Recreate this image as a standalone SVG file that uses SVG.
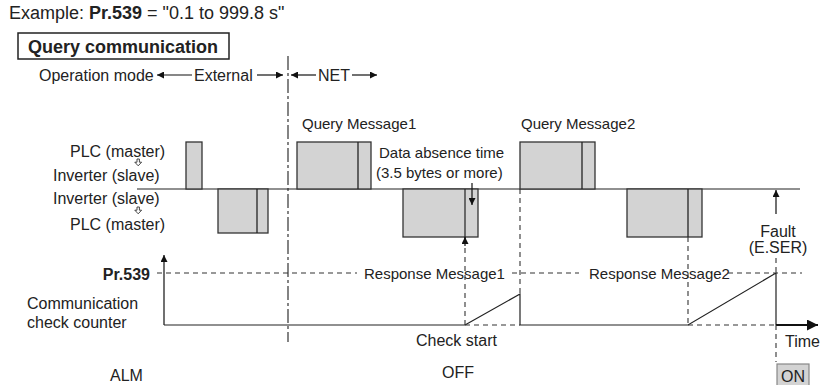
<svg xmlns="http://www.w3.org/2000/svg" width="823" height="385" viewBox="0 0 823 385">
  <defs>
    <marker id="tri" viewBox="0 0 10 10" refX="10" refY="5" markerWidth="7" markerHeight="7" markerUnits="userSpaceOnUse" orient="auto">
      <path d="M0,0 L10,5 L0,10 z" fill="#111"/>
    </marker>
    <marker id="triBig" viewBox="0 0 10 10" refX="10" refY="5" markerWidth="11" markerHeight="11" markerUnits="userSpaceOnUse" orient="auto">
      <path d="M0,0 L10,5 L0,10 z" fill="#111"/>
    </marker>
  </defs>
  <style>
    text { font-family: "Liberation Sans", Arial, sans-serif; fill: #222; }
    .lbl { font-size: 16px; }
    .sm { font-size: 15px; }
    .hd { font-size: 18px; }
    .b { font-weight: bold; }
    .frame { fill: #d3d3d3; stroke: #333; stroke-width: 1.3; }
    .div { stroke: #222; stroke-width: 1.3; fill: none; }
    .line { stroke: #222; stroke-width: 1.2; fill: none; }
    .dash { stroke: #333; stroke-width: 1.1; stroke-dasharray: 5 4; fill: none; }
    .chain { stroke: #333; stroke-width: 1.2; stroke-dasharray: 14 3 3 3; fill: none; }
    .arr { stroke: #111; stroke-width: 1.2; fill: none; marker-end: url(#tri); }
    .hollow { stroke: #333; stroke-width: 0.9; fill: #fff; }
  </style>

  <!-- Title block -->
  <g id="title">
    <text class="hd" x="9" y="19">Example: <tspan class="b">Pr.539</tspan> = "0.1 to 999.8 s"</text>
    <rect x="18" y="33" width="211" height="26" fill="none" stroke="#222" stroke-width="1.5"/>
    <text class="hd b" x="28" y="52.5">Query communication</text>
  </g>

  <!-- Operation mode row -->
  <g id="mode">
    <text class="lbl" x="39" y="81">Operation mode</text>
    <line class="arr" x1="192" y1="75" x2="157" y2="75"/>
    <text class="lbl" x="194" y="81">External</text>
    <line class="arr" x1="257" y1="75" x2="283" y2="75"/>
    <line class="arr" x1="316" y1="75" x2="291" y2="75"/>
    <text class="lbl" x="318" y="81">NET</text>
    <line class="arr" x1="352" y1="75" x2="377" y2="75"/>
  </g>

  <!-- Left side labels -->
  <g id="labels">
    <text class="lbl" x="70" y="157">PLC (master)</text>
    <path class="hollow" d="M137,159 h2.4 v3.2 h2.2 l-3.4,3.6 l-3.4,-3.6 h2.2 z"/>
    <text class="lbl" x="53" y="181">Inverter (slave)</text>
    <text class="lbl" x="53" y="204">Inverter (slave)</text>
    <path class="hollow" d="M137,207 h2.4 v3.2 h2.2 l-3.4,3.6 l-3.4,-3.6 h2.2 z"/>
    <text class="lbl" x="70" y="230">PLC (master)</text>
    <text class="lbl b" x="150" y="280" text-anchor="end">Pr.539</text>
    <text class="lbl" x="27" y="309">Communication</text>
    <text class="lbl" x="27" y="328">check counter</text>
    <text class="lbl" x="110" y="381">ALM</text>
  </g>

  <!-- Mode boundary (chain line) -->
  <g id="boundary">
    <line class="chain" x1="288" y1="56" x2="288" y2="342"/>
  </g>

  <!-- Communication line and message frames -->
  <g id="frames">
    <line class="line" x1="137" y1="189" x2="800" y2="189"/>
    <rect class="frame" x="186" y="142" width="16" height="47"/>
    <rect class="frame" x="218" y="189" width="50" height="44"/>
    <line class="div" x1="257" y1="189" x2="257" y2="233"/>
    <rect class="frame" x="297" y="142" width="74" height="47"/>
    <line class="div" x1="358" y1="142" x2="358" y2="189"/>
    <rect class="frame" x="403" y="189" width="75" height="48"/>
    <rect class="frame" x="520" y="142" width="75" height="47"/>
    <line class="div" x1="582" y1="142" x2="582" y2="189"/>
    <rect class="frame" x="627" y="189" width="75" height="48"/>
    <line class="div" x1="688" y1="189" x2="688" y2="237"/>
    <text class="sm" x="302" y="129">Query Message1</text>
    <text class="sm" x="521" y="129">Query Message2</text>
    <text class="sm" x="379" y="158">Data absence time</text>
    <text class="sm" x="376" y="178">(3.5 bytes or more)</text>
  </g>

  <!-- Counter graph -->
  <g id="counter">
    <line class="arr" x1="164" y1="325" x2="164" y2="255"/>
    <line class="dash" x1="157" y1="273" x2="357" y2="273"/>
    <line class="dash" x1="512" y1="273" x2="579" y2="273"/>
    <line class="dash" x1="728" y1="273" x2="802" y2="273"/>
    <text class="sm" x="364" y="279">Response Message1</text>
    <text class="sm" x="589" y="279">Response Message2</text>
    <polyline class="line" points="164,325 465,325"/>
    <polyline class="line" points="465,325 520,294 520,325 688,325 776,273 776,325"/>
    <line class="dash" x1="465" y1="325" x2="520" y2="325"/>
    <line class="dash" x1="688" y1="325" x2="776" y2="325"/>
    <line x1="776" y1="325" x2="818" y2="325" stroke="#111" stroke-width="2" marker-end="url(#triBig)"/>
    <text class="lbl" x="416" y="346">Check start</text>
    <text class="lbl" x="785" y="347">Time</text>
  </g>

  <!-- Connectors: timing markers -->
  <g id="connectors">
    <line class="arr" x1="472" y1="183" x2="472" y2="205"/>
    <line class="line" x1="465" y1="189" x2="465" y2="243"/>
    <line class="arr" x1="465" y1="246" x2="465" y2="237"/>
    <line class="dash" x1="465" y1="248" x2="465" y2="325"/>
    <line class="dash" x1="520" y1="189" x2="520" y2="294"/>
    <line class="dash" x1="688" y1="237" x2="688" y2="325"/>
    <line class="arr" x1="776" y1="214" x2="776" y2="190"/>
    <line class="dash" x1="776" y1="258" x2="776" y2="273"/>
    <line class="dash" x1="776" y1="325" x2="776" y2="362"/>
  </g>

  <!-- Fault note and alarm output -->
  <g id="fault">
    <text class="lbl" x="778" y="237" text-anchor="middle">Fault</text>
    <text class="lbl" x="778" y="253" text-anchor="middle">(E.SER)</text>
  </g>
  <g id="alarm">
    <text class="lbl" x="458" y="378" text-anchor="middle">OFF</text>
    <rect x="777" y="364" width="32" height="30" fill="#d3d3d3" stroke="#888" stroke-width="1.2"/>
    <text class="lbl" x="793" y="382" text-anchor="middle">ON</text>
  </g>
</svg>
